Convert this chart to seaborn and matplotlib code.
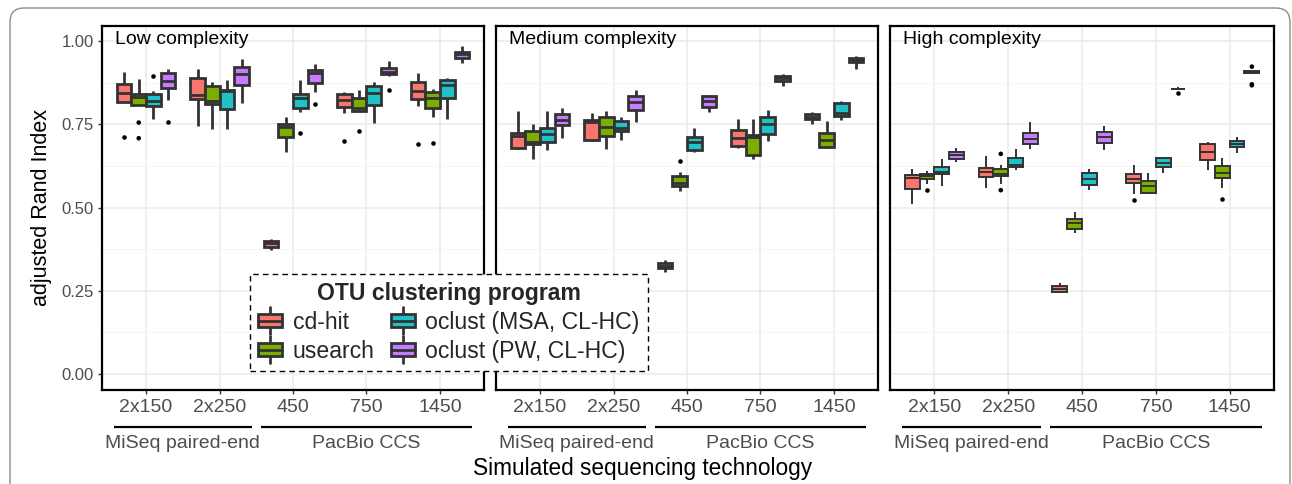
import numpy as np
import pandas as pd
import matplotlib
matplotlib.use("Agg")
import matplotlib.pyplot as plt
import seaborn as sns
from matplotlib.patches import Patch, Rectangle, FancyBboxPatch
from matplotlib.lines import Line2D
from matplotlib.legend_handler import HandlerBase
from matplotlib.transforms import IdentityTransform, blended_transform_factory

# ---------------- data ----------------
panels = ["Low complexity", "Medium complexity", "High complexity"]
techs = ["2x150", "2x250", "450", "750", "1450"]
programs = ["cd-hit", "usearch", "oclust (MSA, CL-HC)", "oclust (PW, CL-HC)"]
tech_groups = [("MiSeq paired-end", ["2x150", "2x250"]),
               ("PacBio CCS", ["450", "750", "1450"])]
colors = ["#F8766D", "#7CAE00", "#1FC2C7", "#C77CFF"]

# each box: [lower whisker, Q1, median, Q3, upper whisker], one per tech
low_cdhit = [[0.818, 0.818, 0.845, 0.871, 0.906], [0.745, 0.825, 0.838, 0.890, 0.915],
             [0.372, 0.381, 0.392, 0.400, 0.405], [0.783, 0.803, 0.823, 0.840, 0.848],
             [0.806, 0.826, 0.851, 0.878, 0.903]]
low_usearch = [[0.807, 0.807, 0.832, 0.841, 0.885], [0.735, 0.811, 0.820, 0.865, 0.876],
               [0.668, 0.713, 0.743, 0.750, 0.771], [0.786, 0.790, 0.800, 0.828, 0.852],
               [0.771, 0.800, 0.828, 0.848, 0.855]]
low_msa = [[0.765, 0.805, 0.820, 0.841, 0.851], [0.735, 0.795, 0.850, 0.853, 0.883],
           [0.786, 0.798, 0.830, 0.840, 0.883], [0.753, 0.808, 0.843, 0.866, 0.878],
           [0.765, 0.828, 0.868, 0.883, 0.890]]
low_pw = [[0.823, 0.858, 0.881, 0.905, 0.915], [0.813, 0.868, 0.901, 0.923, 0.945],
          [0.848, 0.875, 0.905, 0.913, 0.931], [0.895, 0.900, 0.907, 0.918, 0.941],
          [0.933, 0.950, 0.960, 0.968, 0.986]]

med_cdhit = [[0.675, 0.678, 0.715, 0.725, 0.790], [0.700, 0.703, 0.758, 0.763, 0.783],
             [0.307, 0.318, 0.325, 0.332, 0.342], [0.678, 0.686, 0.708, 0.733, 0.765],
             [0.750, 0.766, 0.773, 0.781, 0.787]]
med_usearch = [[0.645, 0.690, 0.698, 0.730, 0.750], [0.675, 0.715, 0.743, 0.771, 0.791],
               [0.551, 0.566, 0.575, 0.596, 0.608], [0.646, 0.658, 0.713, 0.718, 0.765],
               [0.680, 0.683, 0.703, 0.723, 0.760]]
med_msa = [[0.673, 0.698, 0.721, 0.738, 0.790], [0.703, 0.731, 0.740, 0.761, 0.771],
           [0.668, 0.673, 0.698, 0.713, 0.738], [0.701, 0.721, 0.750, 0.773, 0.793],
           [0.763, 0.775, 0.783, 0.813, 0.820]]
med_pw = [[0.708, 0.748, 0.763, 0.781, 0.798], [0.756, 0.793, 0.818, 0.835, 0.853],
          [0.786, 0.801, 0.821, 0.835, 0.838], [0.866, 0.881, 0.889, 0.895, 0.901],
          [0.916, 0.937, 0.943, 0.950, 0.955]]

high_cdhit = [[0.510, 0.557, 0.590, 0.598, 0.616], [0.558, 0.593, 0.608, 0.620, 0.655],
              [0.242, 0.247, 0.256, 0.264, 0.274], [0.542, 0.575, 0.587, 0.602, 0.628],
              [0.613, 0.643, 0.666, 0.691, 0.698]]
high_usearch = [[0.571, 0.586, 0.595, 0.602, 0.610], [0.571, 0.595, 0.602, 0.615, 0.628],
                [0.424, 0.436, 0.452, 0.465, 0.486], [0.540, 0.545, 0.566, 0.580, 0.605],
                [0.560, 0.590, 0.605, 0.625, 0.648]]
high_msa = [[0.566, 0.601, 0.608, 0.623, 0.645], [0.613, 0.623, 0.628, 0.648, 0.675],
            [0.553, 0.568, 0.586, 0.605, 0.615], [0.605, 0.621, 0.635, 0.648, 0.651],
            [0.665, 0.681, 0.690, 0.700, 0.713]]
high_pw = [[0.638, 0.645, 0.658, 0.668, 0.678], [0.675, 0.691, 0.705, 0.723, 0.756],
           [0.673, 0.693, 0.711, 0.726, 0.745], [0.854, 0.855, 0.856, 0.857, 0.861],
           [0.903, 0.905, 0.907, 0.909, 0.911]]

# outliers: (tech, program, value)
low_outliers = [("2x150", "cd-hit", 0.713), ("2x150", "usearch", 0.755), ("2x150", "usearch", 0.708),
                ("2x150", "oclust (MSA, CL-HC)", 0.895), ("2x150", "oclust (PW, CL-HC)", 0.758),
                ("450", "oclust (MSA, CL-HC)", 0.725), ("450", "oclust (PW, CL-HC)", 0.810),
                ("750", "cd-hit", 0.700), ("750", "usearch", 0.731), ("750", "oclust (PW, CL-HC)", 0.852),
                ("1450", "cd-hit", 0.690), ("1450", "usearch", 0.693)]
med_outliers = [("450", "usearch", 0.640)]
high_outliers = [("2x150", "usearch", 0.553), ("2x250", "usearch", 0.661), ("2x250", "usearch", 0.552),
                 ("750", "cd-hit", 0.523), ("750", "oclust (PW, CL-HC)", 0.845),
                 ("1450", "usearch", 0.526), ("1450", "oclust (PW, CL-HC)", 0.923),
                 ("1450", "oclust (PW, CL-HC)", 0.870), ("1450", "oclust (PW, CL-HC)", 0.867)]

yticks = [0.00, 0.25, 0.50, 0.75, 1.00]
ytick_labels = ["0.00", "0.25", "0.50", "0.75", "1.00"]

# ---------------- build tables ----------------
stats = {
    "Low complexity": [low_cdhit, low_usearch, low_msa, low_pw],
    "Medium complexity": [med_cdhit, med_usearch, med_msa, med_pw],
    "High complexity": [high_cdhit, high_usearch, high_msa, high_pw],
}
outliers = {"Low complexity": low_outliers, "Medium complexity": med_outliers,
            "High complexity": high_outliers}

rows = []
for panel, progboxes in stats.items():
    for prog, boxes in zip(programs, progboxes):
        for tech, vals in zip(techs, boxes):
            for v in vals:
                rows.append((panel, tech, prog, v))
box_df = pd.DataFrame(rows, columns=["panel", "tech", "program", "value"])
out_df = pd.DataFrame([(p, t, g, v) for p, lst in outliers.items() for (t, g, v) in lst],
                      columns=["panel", "tech", "program", "value"])

# ---------------- style ----------------
sns.set_theme(style="white")
plt.rcParams["font.family"] = ["Liberation Sans", "DejaVu Sans"]
EDGE = "#333333"
LW = 2.0
panel_lw = [2.0, 2.0, 1.4]
palette = dict(zip(programs, colors))

W, H = 1292, 484
fig = plt.figure(figsize=(W / 100, H / 100), dpi=100)
fig.patch.set_facecolor("white")

ax_px = [(102, 382), (496, 382), (890, 384)]
top_px, bot_px = 26, 390

axes = []
for i, (panel, (lx, wx)) in enumerate(zip(panels, ax_px)):
    ax = fig.add_axes([lx / W, (H - bot_px) / H, wx / W, (bot_px - top_px) / H])
    axes.append(ax)
    d = box_df[box_df.panel == panel]
    sns.boxplot(data=d, x="tech", y="value", hue="program", order=techs, hue_order=programs,
                palette=palette, saturation=1, width=0.8, gap=0, whis=(0, 100),
                showfliers=False, linecolor=EDGE, linewidth=panel_lw[i], showcaps=False,
                legend=False, ax=ax)
    o = out_df[out_df.panel == panel]
    sns.stripplot(data=o, x="tech", y="value", hue="program", order=techs, hue_order=programs,
                  palette={p: "black" for p in programs}, dodge=True, jitter=False, size=3.3,
                  linewidth=0, legend=False, ax=ax)
    ax.set_xlim(-0.6, 4.6)
    ax.set_ylim(-0.048, 1.045)
    ax.set_yticks(yticks)
    ax.set_yticks([0.125, 0.375, 0.625, 0.875], minor=True)
    ax.set_axisbelow(True)
    ax.grid(True, which="major", color="#EBEBEB", linewidth=1.1)
    ax.grid(True, which="minor", axis="y", color="#F4F4F4", linewidth=0.6)
    ax.tick_params(which="minor", length=0)
    ax.tick_params(axis="x", which="major", length=3, width=1.0, color=EDGE,
                   labelsize=14, labelcolor="#4D4D4D", pad=3.5, bottom=True)
    if i == 0:
        ax.set_yticklabels(ytick_labels)
        ax.tick_params(axis="y", which="major", length=3, width=1.0, color=EDGE,
                       labelsize=12, labelcolor="#4D4D4D", pad=3, left=True)
        ax.set_ylabel("adjusted Rand Index", fontsize=15.5, color="black", labelpad=7)
    else:
        ax.tick_params(axis="y", which="major", left=False, labelleft=False)
        ax.set_ylabel("")
    ax.set_xlabel("")
    for sp in ax.spines.values():
        sp.set_color("black")
        sp.set_linewidth(1.6)
    ax.text(0.035, 0.985, panel, transform=ax.transAxes, ha="left", va="top",
            fontsize=14, color="black")
    # technology group brackets under tick labels
    tr = blended_transform_factory(ax.transData, ax.transAxes)
    for gname, members in tech_groups:
        i0 = techs.index(members[0])
        i1 = techs.index(members[-1])
        ax.plot([i0 - 0.44, i1 + 0.44], [-0.102, -0.102], color="black", lw=1.6,
                transform=tr, clip_on=False, solid_capstyle="butt")
        ax.text((i0 + i1) / 2, -0.146, gname, transform=tr, ha="center", va="center",
                fontsize=14, color="#4D4D4D")

fig.text(643 / W, 1 - 468 / H, "Simulated sequencing technology", ha="center", va="center",
         fontsize=16.3, color="black")


# ---------------- legend ----------------
class BoxHandler(HandlerBase):
    def create_artists(self, legend, orig_handle, xdescent, ydescent, width, height,
                       fontsize, trans):
        fc = orig_handle.get_facecolor()
        x0, y0 = -xdescent, -ydescent
        bh = height * 0.72
        by = y0 + (height - bh) / 2
        cx = x0 + width / 2
        w_top = Line2D([cx, cx], [by + bh, y0 + height + 3], color=EDGE, lw=LW, transform=trans)
        w_bot = Line2D([cx, cx], [y0 - 3, by], color=EDGE, lw=LW, transform=trans)
        rect = Rectangle((x0, by), width, bh, facecolor=fc, edgecolor=EDGE, lw=LW,
                         transform=trans)
        med = Line2D([x0, x0 + width], [by + bh / 2] * 2, color=EDGE, lw=LW, transform=trans)
        return [w_top, w_bot, rect, med]


handles = [Patch(facecolor=c, label=p) for p, c in zip(programs, colors)]
leg = fig.legend(handles=handles, labels=programs,
                 handler_map={Patch: BoxHandler()}, ncol=2,
                 title="OTU clustering program",
                 title_fontproperties={"weight": "bold", "size": 16.6},
                 fontsize=16.6, loc="upper left",
                 bbox_to_anchor=(250 / W, 1 - 274 / H), bbox_transform=fig.transFigure,
                 frameon=True, fancybox=False, framealpha=1, edgecolor="black",
                 handlelength=1.05, handleheight=0.85, handletextpad=0.45,
                 columnspacing=0.7, labelspacing=0.25, borderpad=0.35, borderaxespad=0)
frame = leg.get_frame()
frame.set_linestyle((0, (4, 3)))
frame.set_linewidth(1.0)
frame.set_facecolor("white")

# outer rounded frame of the figure
fig.add_artist(FancyBboxPatch((10, -30), 1280, 476 + 30,
                              boxstyle="round,pad=0,rounding_size=14",
                              transform=IdentityTransform(), fill=False,
                              edgecolor="#8C8C8C", linewidth=1.0))

fig.savefig("out.png", dpi=100, facecolor="white")
